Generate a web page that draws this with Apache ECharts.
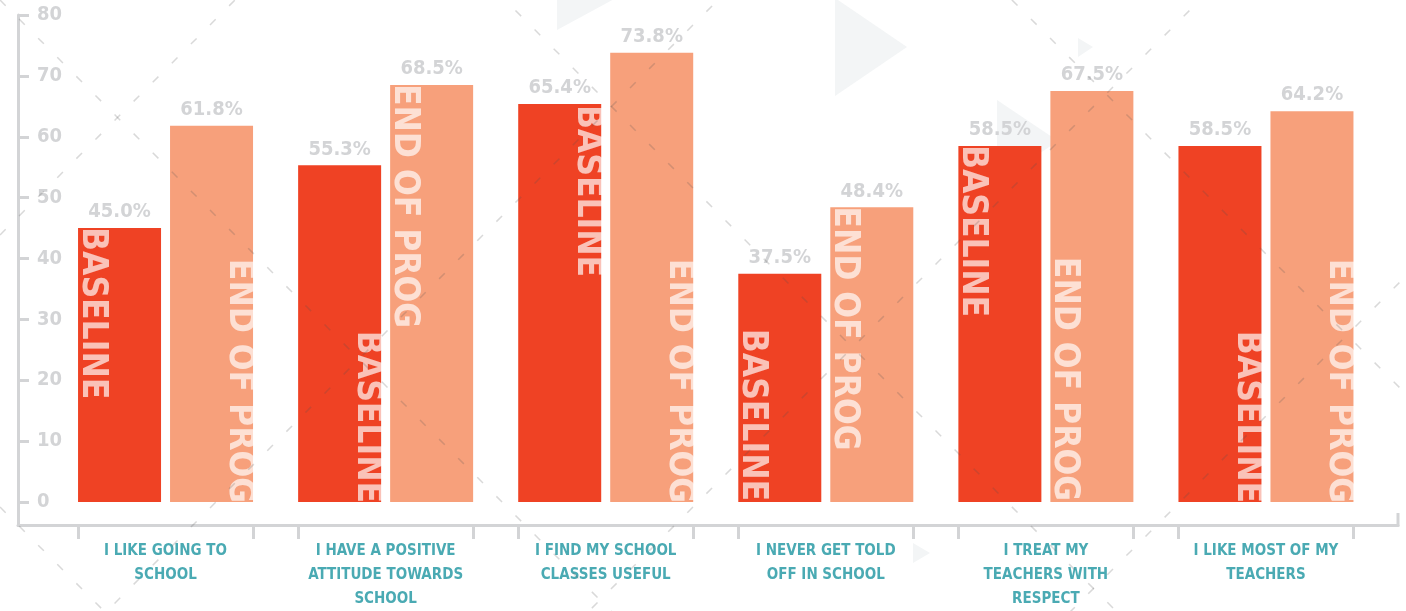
<!DOCTYPE html>
<html>
<head>
<meta charset="utf-8">
<script src="https://cdn.jsdelivr.net/npm/echarts@6/dist/echarts.min.js"></script>
<style>
  html, body { margin: 0; padding: 0; background: #ffffff; }
  #chart { width: 1406px; height: 611px; }
</style>
</head>
<body>
<div id="chart"></div>
<script>
// ---------- DATA ----------
const categories = [
  'I LIKE GOING TO\nSCHOOL',
  'I HAVE A POSITIVE\nATTITUDE TOWARDS\nSCHOOL',
  'I FIND MY SCHOOL\nCLASSES USEFUL',
  'I NEVER GET TOLD\nOFF IN SCHOOL',
  'I TREAT MY\nTEACHERS WITH\nRESPECT',
  'I LIKE MOST OF MY\nTEACHERS'
];
const baselineValues = [45.0, 55.3, 65.4, 37.5, 58.5, 58.5];
const endValues      = [61.8, 68.5, 73.8, 48.4, 67.5, 64.2];
const seriesNames = ['BASELINE', 'END OF PROG'];
const yTicks = { min: 0, max: 80, interval: 10 };

// ---------- STYLE / LAYOUT ----------
const FONT = '"Liberation Sans Narrow", "DejaVu Sans Condensed", sans-serif';
const GREY = '#d3d4d6';
const RED = '#ef4224';
const SALMON = '#f7a07b';
const TEAL = '#4aaab3';
// corner where each in-bar name label sits (TL, TR, BL, BR)
const baselineCorners = ['TL', 'BR', 'TR', 'BL', 'TL', 'BR'];
const endCorners      = ['BR', 'TL', 'BR', 'TL', 'BL', 'BR'];

const barW = 83, barGapPx = 9;
const plotLeft = 55.5, plotRight = 30, plotTop = 15, plotBottom = 108;
const frameLeft = 18, frameRight = 8, frameBottom = 86;
const W = 1406, H = 611;
const band = (W - plotLeft - plotRight) / categories.length;
const halfGroup = (2 * barW + barGapPx) / 2 / band;
const frameMin = -0.5 - (plotLeft - frameLeft) / band;
const frameMax = categories.length - 0.5 + (plotRight - frameRight) / band;
const edgeTicks = [];
categories.forEach((c, i) => { edgeTicks.push(i - halfGroup, i + halfGroup); });

const cornerCfg = {
  TL: { position: ['0%', '0%'],   align: 'left',  verticalAlign: 'bottom', offset: [-1, 0] },
  TR: { position: ['100%', '0%'], align: 'left',  verticalAlign: 'top',    offset: [1, 0] },
  BL: { position: ['0%', '100%'], align: 'right', verticalAlign: 'bottom', offset: [-1, 0] },
  BR: { position: ['100%', '100%'], align: 'right', verticalAlign: 'top',  offset: [1, 0] }
};

function barItems(values, corners) {
  return values.map((v, i) => ({ value: v, label: Object.assign({}, cornerCfg[corners[i]]) }));
}

const nameLabel = (name) => ({
  show: true,
  formatter: name,
  rotate: -90,
  color: 'rgba(255,255,255,0.68)',
  fontFamily: FONT,
  fontWeight: 'bold',
  fontSize: 35,
  lineHeight: 28
});

const valueLabel = (values) => ({
  show: true,
  position: 'top',
  distance: 6,
  formatter: (p) => values[p.dataIndex].toFixed(1) + '%',
  color: GREY,
  fontFamily: FONT,
  fontWeight: 'bold',
  fontSize: 20
});

// ---------- DECORATION (background lattice and triangles) ----------
const diagDown = [-1012, -505, 0, 507];   // y = x + c
const diagUp = [235, 718, 1200, 1682];    // x + y = c
const deco = [];
const dashStyle = { stroke: 'rgba(80,80,80,0.22)', lineWidth: 1.5, lineDash: [8, 19] };
diagDown.forEach(c => deco.push({ type: 'line', z: 100, silent: true,
  shape: { x1: 0, y1: c, x2: W, y2: W + c }, style: dashStyle }));
diagUp.forEach(c => deco.push({ type: 'line', z: 100, silent: true,
  shape: { x1: 0, y1: c, x2: W, y2: c - W }, style: dashStyle }));
const tris = [
  [[557, -60], [557, 30], [640, -15]],
  [[835, -2], [835, 96], [907, 47]],
  [[997, 100], [997, 182], [1058, 141]],
  [[1078, 38], [1078, 57], [1093, 47]],
  [[913, 543], [913, 563], [930, 553]]
];
tris.forEach(p => deco.push({ type: 'polygon', z: 0, silent: true,
  shape: { points: p }, style: { fill: '#f3f5f6' } }));
// upward end tick of the frame
deco.push({ type: 'line', z: 50, silent: true,
  shape: { x1: W - frameRight, y1: H - frameBottom - 12, x2: W - frameRight, y2: H - frameBottom + 1.5 },
  style: { stroke: GREY, lineWidth: 3 } });

const chart = echarts.init(document.getElementById('chart'), null, { renderer: 'canvas' });
chart.setOption({
  backgroundColor: '#ffffff',
  animation: false,
  graphic: deco,
  grid: [
    { left: plotLeft, right: plotRight, top: plotTop, bottom: plotBottom },
    { left: frameLeft, right: frameRight, top: plotTop, bottom: frameBottom }
  ],
  xAxis: [
    {
      type: 'category', gridIndex: 0, data: categories,
      axisLine: { show: false }, axisTick: { show: false },
      axisLabel: {
        interval: 0, margin: 37, color: TEAL, fontFamily: FONT,
        fontWeight: 'bold', fontSize: 15, lineHeight: 24
      }
    },
    {
      type: 'value', gridIndex: 1, min: frameMin, max: frameMax,
      axisLine: { show: true, onZero: false, lineStyle: { color: GREY, width: 3 } },
      axisTick: { show: true, length: 14, customValues: edgeTicks, lineStyle: { color: GREY, width: 3 } },
      axisLabel: { show: false },
      splitLine: { show: false }
    }
  ],
  yAxis: [
    {
      type: 'value', gridIndex: 0, min: yTicks.min, max: yTicks.max, interval: yTicks.interval,
      offset: plotLeft - frameLeft,
      axisLine: { show: false },
      axisTick: { show: true, inside: true, length: 11, lineStyle: { color: GREY, width: 3 } },
      axisLabel: { inside: true, margin: 19, color: GREY, fontFamily: FONT, fontWeight: 'bold', fontSize: 20 },
      splitLine: { show: false }
    },
    {
      type: 'value', gridIndex: 1, min: 0, max: 1,
      axisLine: { show: true, onZero: false, lineStyle: { color: GREY, width: 3 } },
      axisTick: { show: false }, axisLabel: { show: false }, splitLine: { show: false }
    }
  ],
  series: [
    {
      name: seriesNames[0], type: 'bar', xAxisIndex: 0, yAxisIndex: 0, stack: 'base',
      barWidth: barW, barGap: (barGapPx / barW * 100) + '%',
      itemStyle: { color: RED },
      label: nameLabel(seriesNames[0]),
      data: barItems(baselineValues, baselineCorners)
    },
    {
      name: seriesNames[1], type: 'bar', xAxisIndex: 0, yAxisIndex: 0, stack: 'end',
      barWidth: barW, barGap: (barGapPx / barW * 100) + '%',
      itemStyle: { color: SALMON },
      label: nameLabel(seriesNames[1]),
      data: barItems(endValues, endCorners)
    },
    {
      name: seriesNames[0] + ' value', type: 'bar', xAxisIndex: 0, yAxisIndex: 0, stack: 'base',
      barWidth: barW, itemStyle: { color: 'rgba(0,0,0,0)' },
      label: valueLabel(baselineValues),
      data: baselineValues.map(() => 0)
    },
    {
      name: seriesNames[1] + ' value', type: 'bar', xAxisIndex: 0, yAxisIndex: 0, stack: 'end',
      barWidth: barW, itemStyle: { color: 'rgba(0,0,0,0)' },
      label: valueLabel(endValues),
      data: endValues.map(() => 0)
    }
  ]
});
</script>
</body>
</html>
